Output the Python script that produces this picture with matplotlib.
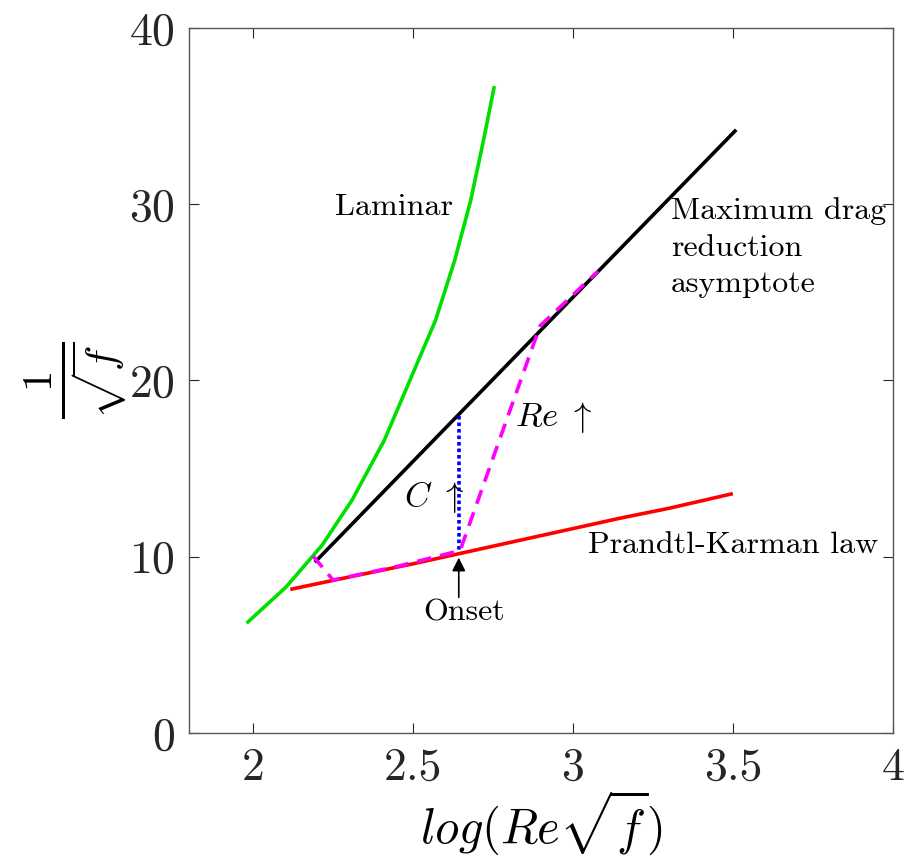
import numpy as np
import matplotlib
matplotlib.use("Agg")
import matplotlib.pyplot as plt

plt.rcParams['font.family'] = 'serif'
plt.rcParams['font.serif'] = ['cmr10', 'DejaVu Serif']
plt.rcParams['mathtext.fontset'] = 'cm'
plt.rcParams['axes.formatter.use_mathtext'] = True

# laminar branch
lam_x = [1.984, 2.103, 2.216, 2.309, 2.41, 2.49, 2.57, 2.63, 2.68, 2.72, 2.753]
lam_y = [6.3, 8.28, 10.66, 13.2, 16.6, 20.0, 23.4, 26.8, 30.2, 33.6, 36.6]

# Prandtl-Karman law
pk_x = [2.122, 2.3, 2.5, 2.65, 3.0, 3.15, 3.3, 3.494]
pk_y = [8.17, 8.85, 9.6, 10.2, 11.6, 12.2, 12.75, 13.56]

# maximum drag reduction asymptote
mdr_x = [2.197, 2.641, 3.506]
mdr_y = [9.76, 18.04, 34.15]

# polymer path (concentration increase)
c_x = [2.643, 2.643]
c_y = [18.0, 10.4]

# path with Re increase
re_x = [2.188, 2.25, 2.45, 2.647, 2.897, 3.078]
re_y = [10.04, 8.68, 9.45, 10.35, 23.1, 26.2]

fig = plt.figure(figsize=(9.07, 8.63), dpi=100)
ax = fig.add_axes([0.2084, 0.1506, 0.7762, 0.817])

ax.plot(lam_x, lam_y, color='#00e000', lw=2.6)
ax.plot(pk_x, pk_y, color='#ff0000', lw=2.6)
ax.plot(mdr_x, mdr_y, color='black', lw=2.6)
ax.plot(c_x, c_y, color='#0000ff', lw=2.6, ls=(0, (1, 0.8)))
ax.plot(re_x, re_y, color='#ff00ff', lw=2.6, ls=(0, (4, 2.5)))

ax.annotate('', xy=(2.643, 9.95), xytext=(2.643, 7.7),
            arrowprops=dict(arrowstyle='-|>', color='black', lw=1.2,
                            mutation_scale=20, shrinkA=0, shrinkB=0))
ax.text(2.66, 6.85, 'Onset', fontsize=23, ha='center', va='center')
ax.text(2.566, 13.4, r'$C\ \uparrow$', fontsize=25, ha='center', va='center')
ax.text(2.94, 17.9, r'$Re\ \uparrow$', fontsize=25, ha='center', va='center')
ax.text(2.44, 29.8, 'Laminar', fontsize=23, ha='center', va='center')
ax.text(3.306, 30.4, 'Maximum drag\nreduction\nasymptote', fontsize=23,
        ha='left', va='top', linespacing=1.42)
ax.text(3.047, 10.66, 'Prandtl-Karman law', fontsize=23, ha='left', va='center')

ax.set_xlim(1.8, 4)
ax.set_ylim(0, 40)
ax.set_xticks([2, 2.5, 3, 3.5, 4])
ax.set_xticklabels(['2', '2.5', '3', '3.5', '4'])
ax.set_yticks([0, 10, 20, 30, 40])
ax.tick_params(direction='in', length=7, width=0.8, top=True, right=True,
               labelsize=33, colors='#262626', pad=10)
for s in ax.spines.values():
    s.set_color('#555555')
    s.set_linewidth(1.0)

ax.set_xlabel(r'$log(Re\sqrt{f})$', fontsize=35, labelpad=0)
ax.set_ylabel(r'$\frac{1}{\sqrt{f}}$', fontsize=44, labelpad=0)

fig.savefig('out.png', dpi=100)
